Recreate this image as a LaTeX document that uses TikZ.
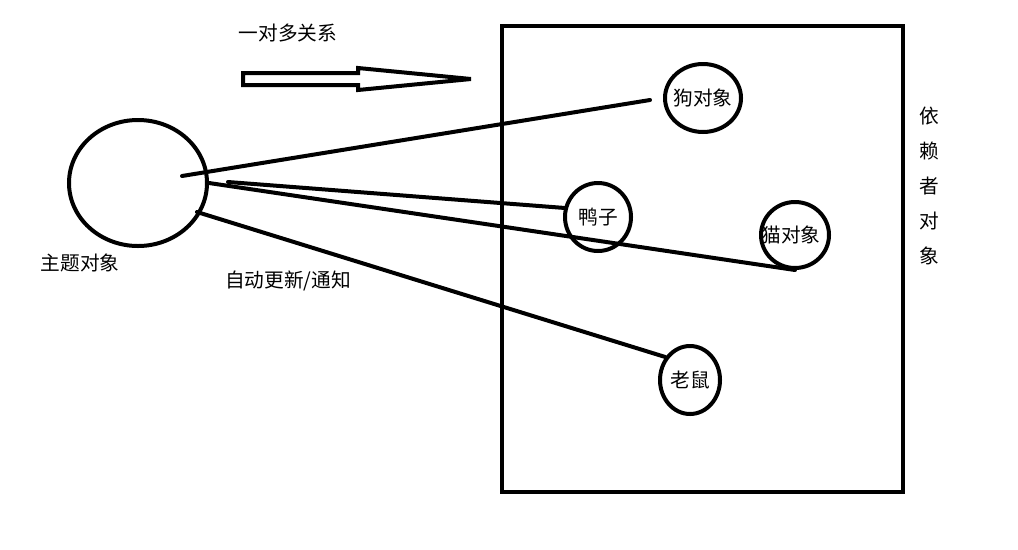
\documentclass[tikz,border=0pt]{standalone}
\usepackage{fontspec}
\setmainfont{Noto Sans CJK SC}
\usetikzlibrary{shapes.geometric}

\begin{document}
\begin{tikzpicture}[x=0.25mm, y=-0.25mm, line width=1mm,
    every node/.style={font=\fontsize{14}{16}\selectfont, inner sep=0pt},
    obj/.style={ellipse, draw, line width=1mm}]
    \useasboundingbox (0,0) rectangle (1018,549);
    % dependent box
    \draw (502,26) rectangle (903,492);
    \node[obj, minimum width=34.5mm, minimum height=31.5mm] (subj) at (138,183) {};
    \node[obj, minimum width=19mm, minimum height=17mm, label=center:狗对象] (dog) at (703,98) {};
    \node[obj, minimum width=16.5mm, minimum height=17mm, label=center:鸭子] (duck) at (598,217) {};
    \node[obj, minimum width=17mm, minimum height=16.5mm, label={[xshift=-1mm]center:猫对象}] (cat) at (795,235) {};
    \node[obj, minimum width=15mm, minimum height=17mm, label=center:老鼠] (mouse) at (690,380) {};
    \node (subjlabel) at (80,263) {主题对象};
    \node (notify) at (288,281) {自动更新/通知};
    \node (onemany) at (288,33) {一对多关系};
    \node[align=center, font=\fontsize{14}{24.9}\selectfont] (deps) at (929,186) {依\\赖\\者\\对\\象};
    \coordinate (s1) at (182,176);
    \coordinate (s2) at (228,182);
    \coordinate (s3) at (197,212);
    \coordinate (dogend) at (650,100);
    \draw[line cap=round] (s1) -- (dogend);
    \draw[line cap=round] (s2) -- (duck.165);
    \draw[line cap=round] (subj.east) -- (cat.south);
    \draw[line cap=round] (s3) -- (mouse.137);
    % hollow arrow
    \draw (243,73) -- (358,73) -- (358,68) -- (471,79) -- (358,90) -- (358,85) -- (243,85) -- cycle;
\end{tikzpicture}
\end{document}
